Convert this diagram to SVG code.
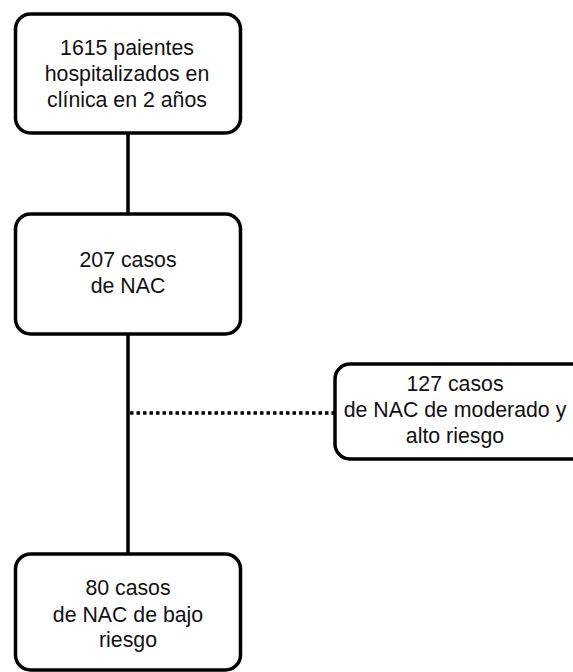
<svg xmlns="http://www.w3.org/2000/svg" width="573" height="672" viewBox="0 0 573 672">
<style>
.box{fill:#fff;stroke:#000;stroke-width:3.5}
.t{font-family:"Liberation Sans",Arial,sans-serif;font-size:21.3px;fill:#111;text-anchor:middle}
.ln{stroke:#000;stroke-width:3.5;fill:none}
.dot{stroke:#000;stroke-width:3.5;fill:none;stroke-dasharray:3.5 3}
</style>
<rect width="573" height="672" fill="#fff"/>
<g id="connectors">
<line class="ln" x1="128" y1="133" x2="128" y2="214"/>
<line class="ln" x1="128" y1="334" x2="128" y2="554"/>
<line class="dot" x1="130" y1="413" x2="335" y2="413"/>
</g>
<g id="n1">
<rect class="box" x="15.5" y="14" width="225" height="119" rx="15"/>
<text class="t" x="127" y="55">1615 paientes</text>
<text class="t" x="127" y="81">hospitalizados en</text>
<text class="t" x="127" y="107">clínica en 2 años</text>
</g>
<g id="n2">
<rect class="box" x="15.5" y="214" width="225" height="120" rx="15"/>
<text class="t" x="128" y="267">207 casos</text>
<text class="t" x="128" y="293">de NAC</text>
</g>
<g id="n3">
<rect class="box" x="335" y="364" width="255" height="95" rx="15"/>
<text class="t" x="455" y="391">127 casos</text>
<text class="t" x="455" y="417">de NAC de moderado y</text>
<text class="t" x="455" y="443">alto riesgo</text>
</g>
<g id="n4">
<rect class="box" x="15.5" y="554" width="225" height="116" rx="15"/>
<text class="t" x="128" y="595">80 casos</text>
<text class="t" x="128" y="622">de NAC de bajo</text>
<text class="t" x="128" y="647">riesgo</text>
</g>
</svg>
